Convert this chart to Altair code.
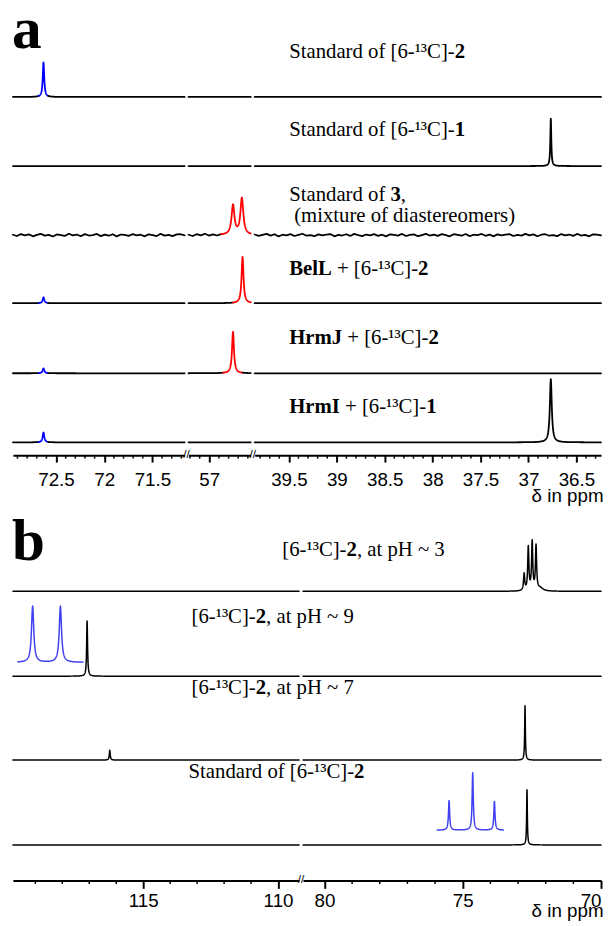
import altair as alt
import numpy as np
import pandas as pd

# ======================= DATA =======================
# ---- panel a: windows of the broken shift axis (ppm, left -> right) and tick labels
A_WINDOWS = [(72.947, 71.166), (57.215, 56.57), (39.857, 36.243)]
A_TICKS = [[72.5, 72.0, 71.5], [57.0], [39.5, 39.0, 38.5, 38.0, 37.5, 37.0, 36.5]]
A_MINOR_STEP = 0.1

# ---- panel a: traces (top -> bottom); peaks = (shift ppm, intensity, half width ppm)
A_TRACES = ["std2", "std1", "std3", "BelL", "HrmJ", "HrmI"]
A_PEAKS = {
    "std2": [(72.63, 35, 0.009)],
    "std1": [(36.767, 48, 0.006)],
    "std3": [(56.754, 30, 0.018), (56.662, 37, 0.018)],
    "BelL": [(72.63, 6, 0.010), (56.655, 47, 0.012)],
    "HrmJ": [(72.63, 5, 0.010), (56.754, 42, 0.012)],
    "HrmI": [(72.63, 10, 0.010), (36.767, 64, 0.012)],
}
# shift ranges drawn in the colour of the compound (from ppm, to ppm, compound)
A_COLOURED = {
    "std2": [(72.68, 72.58, "c2")],
    "std3": [(56.877, 56.57, "c3")],
    "BelL": [(72.68, 72.58, "c2"), (56.754, 56.57, "c3")],
    "HrmJ": [(72.68, 72.58, "c2"), (56.857, 56.652, "c3")],
    "HrmI": [(72.68, 72.58, "c2")],
}
# baseline noise of the "Standard of 3" trace, per window: (from ppm, to ppm, values)
STD3_NOISE = {
    0: (72.947, 71.166, [0.4, -0.9, 1.1, -0.2, 0.8, -1.2, 0.3, 1.3, -0.5, 0.2,
                         -1.4, 0.7, 0.0, -0.8, 1.4, -0.3, 0.6, -1.1, 1.0, -0.4,
                         0.1, 1.2, -1.0, 0.5, -0.6, 0.9, -1.3, 0.6, 0.2, -0.7,
                         1.1, -0.2, 0.4, -1.2, 0.8, 0.0, -0.9, 1.3, -0.5, 0.3,
                         -1.0, 0.7, 0.9, -0.3]),
    1: (57.215, 56.877, [0.3, -1.0, 0.8, -0.4, 1.2, -0.7, 0.5, -0.9, 0.2]),
    2: (39.857, 36.243, [0.6, -0.8, 0.2, 1.2, -0.5, 0.9, -1.3, 0.4, -0.2, 1.0,
                         -0.9, 0.3, 1.4, -0.6, 0.1, -1.1, 0.8, -0.3, 0.5, 1.1,
                         -1.2, 0.2, -0.4, 0.9, -0.8, 1.3, 0.0, -1.0, 0.6, -0.2,
                         1.0, -0.7, 0.4, -1.3, 0.8, 0.2, -0.5, 1.2, -0.9, 0.3,
                         0.7, -1.1, 0.1, 1.3, -0.4, 0.5, -0.8, 1.0, -0.1, -1.2,
                         0.9, 0.3, -0.6, 1.1, -1.0, 0.4, 0.0, 1.2, -0.7, 0.6,
                         -1.3, 0.8, -0.2, 0.5, 1.0, -0.9, 0.2, -0.5, 1.3, -0.3,
                         0.7, -1.1, 0.4, 0.9, -0.6, 0.1, -1.0, 1.1, -0.2, 0.6,
                         -0.8, 1.2, -0.4, 0.3, -1.2, 0.8, 0.5, -0.3]),
}

# ---- panel b
B_WINDOWS = [(119.83, 109.22), (80.775, 70.0)]
B_TICKS = [[115, 110], [80, 75, 70]]
B_MINOR_STEP = 1.0
B_TRACES = ["pH3", "pH9", "pH7", "std"]
B_PEAKS = {
    "pH3": [(72.78, 17, 0.025), (72.63, 44, 0.025), (72.49, 49, 0.025),
            (72.35, 45, 0.025), (72.20, 3, 0.12)],
    "pH9": [(117.08, 56, 0.02)],
    "pH7": [(116.24, 10, 0.02), (72.748, 55, 0.015)],
    "std": [(72.677, 56, 0.015)],
}
# expanded views of the signal (shift range, peaks)
B_INSETS = {
    "pH9": ((119.645, 117.23), [(119.10, 57, 0.05), (118.07, 57, 0.05)]),
    "std": ((75.92, 73.53), [(75.495, 30, 0.025), (74.64, 58, 0.025), (73.855, 29, 0.025)]),
}

# ---- text: runs of (text, bold)
A_LABELS = [
    [("Standard of [6-¹³C]-", False), ("2", True)],
    [("Standard of [6-¹³C]-", False), ("1", True)],
    [("Standard of ", False), ("3", True), (",", False)],
    [("(mixture of diastereomers)", False)],
    [("BelL", True), (" + [6-¹³C]-", False), ("2", True)],
    [("HrmJ", True), (" + [6-¹³C]-", False), ("2", True)],
    [("HrmI", True), (" + [6-¹³C]-", False), ("1", True)],
]
B_LABELS = [
    [("[6-¹³C]-", False), ("2", True), (", at pH ~ 3", False)],
    [("[6-¹³C]-", False), ("2", True), (", at pH ~ 9", False)],
    [("[6-¹³C]-", False), ("2", True), (", at pH ~ 7", False)],
    [("Standard of [6-¹³C]-", False), ("2", True)],
]
AXIS_TITLE = "δ in ppm"
PANEL_LETTERS = ["a", "b"]

# ======================= LAYOUT / STYLE =======================
A_W = [174, 63, 351]
B_W = [290, 302]
GAP = 4
A_H = 446
B_H = 375
V_GAP = 5
A_BASE = {"std2": 363, "std1": 293, "std3": 223, "BelL": 154, "HrmJ": 83, "HrmI": 13}
B_BASE = {"pH3": 293, "pH9": 207, "pH7": 122, "std": 36}
INSET_BASE = {"pH9": 221, "std": 51}
COLOURS = {"k": "#000000", "c2": "#0000ff", "c3": "#ff0000", "ins": "#4040f2"}
A_LABEL_POS = [(292, 45), (292, 125), (292, 190), (297, 212), (292, 265), (292, 335), (292, 405)]
B_LABEL_POS = [(285, 545), (193, 613), (193, 685), (190, 770)]
A_ORIGIN = (12, 8)
B_ORIGIN = (12, 505)
LABEL_FS = 21
LETTER_FS = 60
SERIF = "Liberation Serif"
SANS = "Liberation Sans"

TW_REG = {' ': 250, '(': 333, ')': 333, '+': 564, ',': 250, '-': 333, '[': 333, ']': 333,
          '~': 541, '¹': 300, '³': 300, 'C': 667, 'H': 722, 'S': 556, 'a': 444, 'd': 500,
          'e': 444, 'f': 333, 'i': 278, 'm': 778, 'n': 500, 'o': 500, 'p': 500, 'r': 333,
          's': 389, 't': 278, 'u': 500, 'x': 500}
TW_BOLD = {' ': 250, 'B': 667, 'e': 444, 'l': 278, 'L': 667, 'H': 778, 'r': 444, 'm': 833,
           'J': 500, 'I': 389}


def tw(s, bold, fs):
    tbl = TW_BOLD if bold else TW_REG
    return sum(tbl.get(ch, 500) for ch in s) / 1000.0 * fs


def lor(x, peaks):
    x = np.asarray(x, dtype=float)
    y = np.zeros_like(x)
    for c, h, w in peaks:
        y += h * w * w / ((x - c) ** 2 + w * w)
    return y


def trace_records(key, wi, hi, lo, width, peaks, coloured, base, default_col, noise=None, span=None):
    ppx = width / (hi - lo)
    s_hi, s_lo = hi, lo
    if span is not None:
        s_hi, s_lo = min(span[0], hi), max(span[1], lo)
        if s_hi <= s_lo:
            return []
    pts = {}

    def add_grid(g_hi, g_lo):
        if g_hi - g_lo <= 1e-9:
            return
        n = max(2, int(round((g_hi - g_lo) * ppx * 1.5)) + 1)
        cand = list(np.linspace(g_hi, g_lo, n))
        for c, h, w in peaks:
            cand += [c + k * w / 5.0 for k in range(-75, 76)]
        for a, b, _ in coloured:
            cand += [a, b]
        for v in cand:
            if g_lo - 1e-9 <= v <= g_hi + 1e-9:
                pts[round(float(v), 6)] = None

    if noise is not None:
        n_hi, n_lo, vals = noise
        add_grid(s_hi, n_hi)
        add_grid(n_lo, s_lo)
        for xv, nv in zip(np.linspace(n_hi, n_lo, len(vals)), vals):
            pts[round(float(xv), 6)] = nv
    else:
        add_grid(s_hi, s_lo)
    xs = np.array(sorted(pts.keys(), reverse=True))
    ys = lor(xs, peaks) + np.array([pts[v] or 0.0 for v in xs])

    cuts = {round(s_hi, 6), round(s_lo, 6)}
    for a, b, _ in coloured:
        for v in (a, b):
            if s_lo < v < s_hi:
                cuts.add(round(v, 6))
    cuts = sorted(cuts, reverse=True)
    recs = []
    for k in range(len(cuts) - 1):
        c_hi, c_lo = cuts[k], cuts[k + 1]
        mid = 0.5 * (c_hi + c_lo)
        col = default_col
        for a, b, cc in coloured:
            if min(a, b) <= mid <= max(a, b):
                col = cc
        m = (xs <= c_hi + 1e-9) & (xs >= c_lo - 1e-9)
        for i, (xv, yv) in enumerate(zip(xs[m], ys[m])):
            recs.append({"x": float(xv), "y": float(base + yv), "piece": f"{key}-{wi}-{k}",
                         "col": col, "ord": i})
    return recs


def label_frame(labels, positions, origin, fs):
    rows = []
    for runs, (x0, y0) in zip(labels, positions):
        x = x0 - origin[0]
        for txt, bold in runs:
            stripped = txt.lstrip(" ")
            lead = len(txt) - len(stripped)
            x += tw(" " * lead, bold, fs)   # svg drops leading blanks: advance instead
            rows.append({"t": stripped, "px": x, "py": y0 - origin[1], "b": bool(bold)})
            x += tw(stripped, bold, fs)
    return pd.DataFrame(rows)


def minor_ticks(hi, lo, step, major):
    out = []
    k0 = int(np.ceil(lo / step - 1e-9))
    k1 = int(np.floor(hi / step + 1e-9))
    for k in range(k0, k1 + 1):
        v = round(k * step, 4)
        if all(abs(v - m) > 1e-6 for m in major):
            out.append(v)
    return out


def window_chart(df, hi, lo, w, h, ticks, minor, tick_len, lw, title=None, title_y=0,
                 extra=(), brk=True, lab_pad=5):
    xs = alt.Scale(domain=[hi, lo], nice=False, zero=False)
    ys = alt.Scale(domain=[0, h], nice=False, zero=False)
    ax = dict(values=ticks, format="~g", tickSize=tick_len, tickWidth=2, tickColor="black",
              domainColor="black", domainWidth=2, labelFont=SANS, labelFontSize=19,
              labelColor="black", labelPadding=lab_pad, labelOverlap=False, grid=False)
    if title:
        ax.update(title=title, titleFont=SANS, titleFontSize=19, titleFontWeight="normal",
                  titleColor="black", titleAlign="right", titleBaseline="middle",
                  titleX=w + 2, titleY=title_y)
    else:
        ax["title"] = None
    lines = alt.Chart(df).mark_line(strokeWidth=lw, strokeJoin="round", strokeCap="round").encode(
        x=alt.X("x:Q", scale=xs, axis=alt.Axis(**ax)),
        y=alt.Y("y:Q", scale=ys, axis=None),
        color=alt.Color("col:N", scale=alt.Scale(domain=list(COLOURS.keys()),
                                                 range=list(COLOURS.values())), legend=None),
        detail="piece:N",
        order="ord:Q",
    )
    layers = [lines]
    mt = alt.Chart(pd.DataFrame({"m": minor})).mark_rule(color="black", strokeWidth=1.5).encode(
        x=alt.X("m:Q", scale=xs), y=alt.value(h), y2=alt.value(h + 3.5))
    layers.append(mt)
    if brk:
        bk = alt.Chart(pd.DataFrame({"s": ["//"]})).mark_text(
            font=SANS, fontSize=12, align="center", baseline="middle", color="black").encode(
            text="s:N", x=alt.value(w + GAP / 2), y=alt.value(h - 1))
        layers.append(bk)
    layers += list(extra)
    return alt.layer(*layers).properties(width=w, height=h)


def text_layers(lab, letter, letter_y):
    reg = alt.Chart(lab).transform_filter("!datum.b").mark_text(
        align="left", baseline="middle", font=SERIF, fontSize=LABEL_FS, color="black").encode(
        x=alt.X("px:Q", scale=None), y=alt.Y("py:Q", scale=None), text="t:N")
    bold = alt.Chart(lab).transform_filter("datum.b").mark_text(
        align="left", baseline="middle", font=SERIF, fontSize=LABEL_FS, fontWeight="bold",
        color="black").encode(
        x=alt.X("px:Q", scale=None), y=alt.Y("py:Q", scale=None), text="t:N")
    let = alt.Chart(pd.DataFrame({"t": [letter], "px": [-1], "py": [letter_y]})).mark_text(
        align="left", baseline="alphabetic", font=SERIF, fontSize=LETTER_FS, fontWeight="bold",
        color="black").encode(
        x=alt.X("px:Q", scale=None), y=alt.Y("py:Q", scale=None), text="t:N")
    return [reg, bold, let]


# ---------------- panel a ----------------
a_charts = []
for wi, (hi, lo) in enumerate(A_WINDOWS):
    recs = []
    for key in A_TRACES:
        recs += trace_records(key, wi, hi, lo, A_W[wi], A_PEAKS[key], A_COLOURED.get(key, []),
                              A_BASE[key], "k",
                              noise=STD3_NOISE[wi] if key == "std3" else None)
    df = pd.DataFrame(recs)
    extra = ()
    if wi == 0:
        extra = text_layers(label_frame(A_LABELS, A_LABEL_POS, A_ORIGIN, LABEL_FS),
                            PANEL_LETTERS[0], 41 - A_ORIGIN[1])
    last = wi == len(A_WINDOWS) - 1
    a_charts.append(window_chart(
        df, hi, lo, A_W[wi], A_H, A_TICKS[wi], minor_ticks(hi, lo, A_MINOR_STEP, A_TICKS[wi]),
        7, 1.8, title=AXIS_TITLE if last else None, title_y=41, extra=extra, brk=not last,
        lab_pad=9))

# ---------------- panel b ----------------
b_charts = []
for wi, (hi, lo) in enumerate(B_WINDOWS):
    recs = []
    for key in B_TRACES:
        recs += trace_records(key, wi, hi, lo, B_W[wi], B_PEAKS[key], [], B_BASE[key], "k")
    for key, (span, pk) in B_INSETS.items():
        recs += trace_records("ins" + key, wi, hi, lo, B_W[wi], pk, [], INSET_BASE[key], "ins",
                              span=span)
    df = pd.DataFrame(recs)
    extra = ()
    if wi == 0:
        extra = text_layers(label_frame(B_LABELS, B_LABEL_POS, B_ORIGIN, LABEL_FS),
                            PANEL_LETTERS[1], 555 - B_ORIGIN[1])
    last = wi == len(B_WINDOWS) - 1
    b_charts.append(window_chart(
        df, hi, lo, B_W[wi], B_H, B_TICKS[wi], minor_ticks(hi, lo, B_MINOR_STEP, B_TICKS[wi]),
        8, 1.5, title=AXIS_TITLE if last else None, title_y=31, extra=extra, brk=not last,
        lab_pad=3))

panel_a = alt.hconcat(*a_charts, spacing=GAP, bounds="flush")
panel_b = alt.hconcat(*b_charts, spacing=GAP, bounds="flush")
base_chart = alt.vconcat(panel_a, panel_b, spacing=V_GAP)

try:
    chart = base_chart.properties(padding={"left": 4, "top": -14, "right": 0, "bottom": 0})
    chart = chart.configure_view(stroke=None)
    chart.to_dict()
except Exception:
    chart = base_chart.properties(padding={"left": 4, "top": 0, "right": 0, "bottom": 0})
    chart = chart.configure_view(stroke=None)

chart.save("out.html", embed_options={"renderer": "svg", "actions": False})
